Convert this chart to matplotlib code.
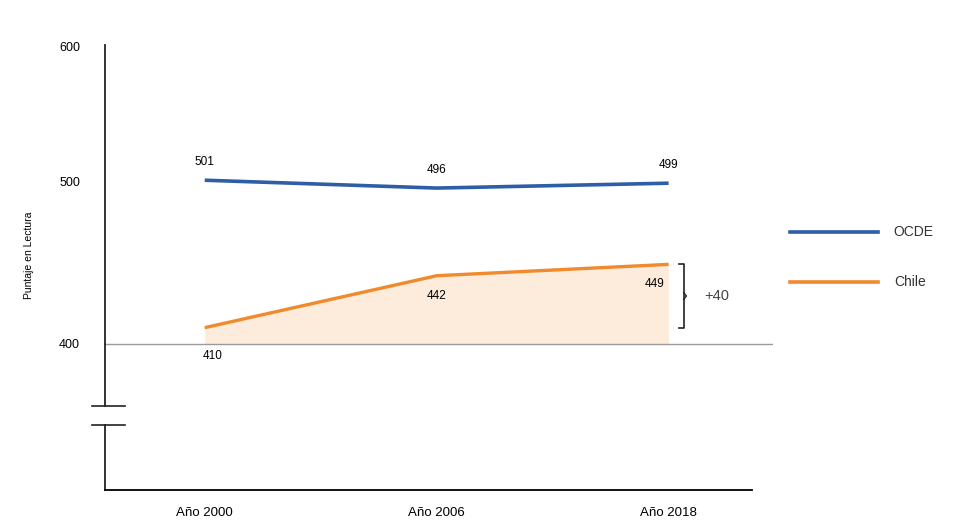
"""Puntaje en Lectura: OCDE vs Chile (PISA 2000, 2006, 2018)."""

import matplotlib

matplotlib.use("Agg")
import matplotlib.pyplot as plt
from matplotlib.transforms import blended_transform_factory

plt.rcParams["font.family"] = ["Liberation Sans", "DejaVu Sans"]

years = ["Año 2000", "Año 2006", "Año 2018"]
ocde = [501, 496, 499]
chile = [410, 442, 449]
ocde_labels = ["501", "496", "499"]
chile_labels = ["410", "442", "449"]
gain_label = "+40"
y_ticks = [400, 500, 600]

BLUE = "#2f5ea8"
ORANGE = "#f08a2c"
FILL = "#fde8d2"


# the reference compresses everything above 500
def _forward(y):
    return y.clip(None, 500) + (y - 500).clip(0, None) * 0.833


def _inverse(y):
    return y.clip(None, 500) + (y - 500).clip(0, None) / 0.833


fig = plt.figure(figsize=(9.57, 5.22), dpi=100)
ax = fig.add_axes([0.1097, 0.0613, 0.698, 0.8525])

x = list(range(len(years)))
ax.set_yscale("function", functions=(_forward, _inverse))
ax.set_xlim(-0.43, 2.45)
ax.set_ylim(310, 601)

ax.fill_between(x, chile, 400, color=FILL, alpha=0.8, lw=0, zorder=1)
ax.axhline(400, color="#9a9a9a", lw=1.0, zorder=2)
ax.plot(x, ocde, color=BLUE, lw=2.6, zorder=3, solid_capstyle="butt")
ax.plot(x, chile, color=ORANGE, lw=2.4, zorder=3, solid_capstyle="butt")

for xi, val, lab in zip(x, ocde, ocde_labels):
    ax.annotate(lab, (xi, val), xytext=(0, 9), textcoords="offset points",
                ha="center", va="bottom", fontsize=8.5)
chile_offsets = [(6, -16), (0, -10), (-10, -10)]
for xi, val, lab, off in zip(x, chile, chile_labels, chile_offsets):
    ax.annotate(lab, (xi, val), xytext=off, textcoords="offset points",
                ha="center", va="top", fontsize=8.5)

# bracket showing Chile's gain
bx = 2.065
ax.plot([bx - 0.02, bx, bx, bx - 0.02], [chile[-1], chile[-1], chile[0], chile[0]],
        color="#222222", lw=1.2, zorder=4)
mid = (chile[0] + chile[-1]) / 2
ax.plot([bx, bx + 0.012, bx], [mid + 2, mid, mid - 2], color="#222222", lw=1.0)
ax.text(bx + 0.09, mid, gain_label, ha="left", va="center", fontsize=10.5,
        color="#444444")

# axes and broken y spine
for side in ["left", "top", "right"]:
    ax.spines[side].set_visible(False)
ax.spines["bottom"].set_bounds(-0.43, 2.36)
ax.spines["bottom"].set_linewidth(1.3)
trans = blended_transform_factory(ax.transAxes, ax.transData)
ax.plot([0, 0], [601, 362], transform=trans, color="#222222", lw=1.3, clip_on=False)
ax.plot([0, 0], [350, 310], transform=trans, color="#222222", lw=1.3, clip_on=False)
for yb in [362, 350]:
    ax.plot([-0.02, 0.03], [yb, yb], transform=trans, color="#222222", lw=1.2,
            clip_on=False)

ax.set_xticks(x)
ax.set_xticklabels(years, fontsize=9.5)
ax.set_yticks(y_ticks)
ax.set_yticklabels([str(t) for t in y_ticks], fontsize=9)
ax.tick_params(axis="both", length=0)
ax.tick_params(axis="x", pad=12)
ax.tick_params(axis="y", pad=18)
ax.minorticks_off()
ax.set_ylabel("Puntaje en Lectura", fontsize=7.5)
ax.yaxis.set_label_coords(-0.106, 0.528)

# legend drawn at the right side
legend_items = [("OCDE", BLUE, 0.556), ("Chile", ORANGE, 0.46)]
for name, color, fy in legend_items:
    fig.add_artist(plt.Line2D([0.826, 0.917], [fy, fy], color=color, lw=2.6,
                              transform=fig.transFigure))
    fig.text(0.934, fy, name, ha="left", va="center", fontsize=10, color="#333333")

fig.savefig("out.png", dpi=100)
